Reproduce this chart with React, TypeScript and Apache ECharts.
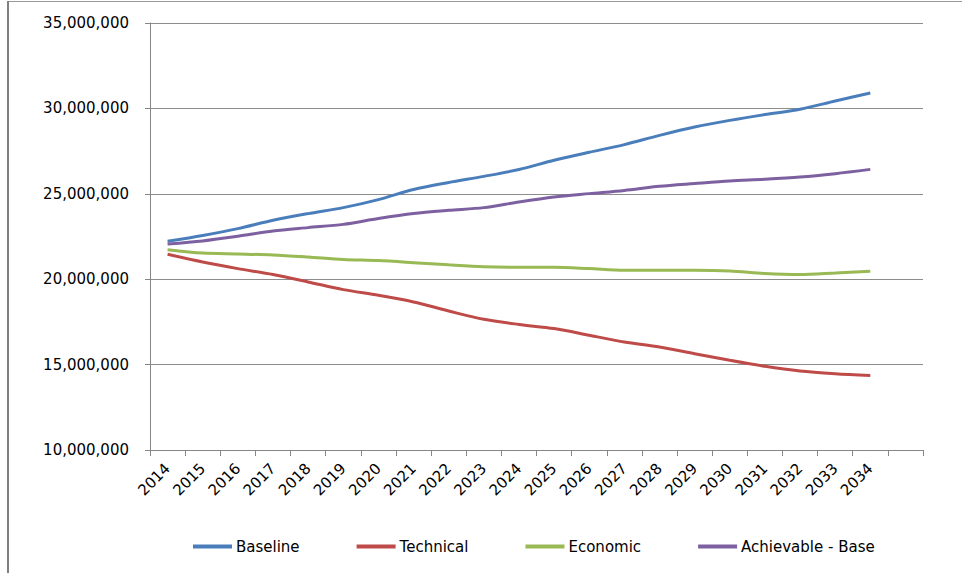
import React, { useEffect, useRef } from "react";
import * as echarts from "echarts";

// Forecast years; the trailing blank slot leaves an empty category at the right end of the axis
const years = [
  "2014", "2015", "2016", "2017", "2018", "2019", "2020", "2021", "2022", "2023", "2024",
  "2025", "2026", "2027", "2028", "2029", "2030", "2031", "2032", "2033", "2034", "",
];

const baseline = [
  22220000, 22560000, 22960000, 23450000, 23840000, 24190000, 24660000, 25250000, 25660000,
  26020000, 26420000, 26960000, 27430000, 27880000, 28420000, 28910000, 29300000, 29640000,
  29950000, 30430000, 30900000,
];

const technical = [
  21460000, 21010000, 20620000, 20270000, 19840000, 19390000, 19060000, 18670000, 18140000,
  17650000, 17350000, 17110000, 16720000, 16320000, 16030000, 15640000, 15250000, 14900000,
  14630000, 14470000, 14360000,
];

const economic = [
  21730000, 21530000, 21480000, 21420000, 21300000, 21160000, 21090000, 20970000, 20840000,
  20730000, 20700000, 20700000, 20620000, 20520000, 20520000, 20520000, 20480000, 20330000,
  20270000, 20360000, 20460000,
];

const achievableBase = [
  22060000, 22240000, 22510000, 22820000, 23020000, 23210000, 23550000, 23840000, 24030000,
  24190000, 24520000, 24810000, 25010000, 25200000, 25440000, 25600000, 25750000, 25850000,
  25980000, 26180000, 26430000,
];

const yTicks = { min: 10000000, max: 35000000, interval: 5000000 };

const FONT = "'DejaVu Sans', Verdana, sans-serif";

const withCommas = (v: number) => String(v).replace(/\B(?=(\d{3})+(?!\d))/g, ",");

export default function App() {
  const ref = useRef<HTMLDivElement>(null);

  useEffect(() => {
    if (!ref.current) return;
    const chart = echarts.init(ref.current, undefined, { renderer: "svg" });

    const line = (name: string, data: number[], color: string) => ({
      name,
      type: "line" as const,
      data,
      smooth: 0.3,
      showSymbol: false,
      symbol: "none",
      lineStyle: { color, width: 3 },
      itemStyle: { color },
    });

    chart.setOption({
      animation: false,
      backgroundColor: "#ffffff",
      textStyle: { fontFamily: FONT },
      grid: { left: 150, top: 23, width: 773, height: 427, containLabel: false },
      xAxis: {
        type: "category",
        data: years,
        boundaryGap: true,
        axisLine: { lineStyle: { color: "#868686", width: 1 } },
        axisTick: { show: true, length: 6, interval: 0, lineStyle: { color: "#868686" } },
        axisLabel: {
          interval: 0,
          rotate: 45,
          margin: 16,
          color: "#000000",
          fontSize: 15,
          fontFamily: FONT,
        },
        splitLine: { show: false },
      },
      yAxis: {
        type: "value",
        min: yTicks.min,
        max: yTicks.max,
        interval: yTicks.interval,
        axisLine: { show: true, lineStyle: { color: "#868686", width: 1 } },
        axisTick: { show: true, length: 5, lineStyle: { color: "#868686" } },
        axisLabel: {
          margin: 21,
          color: "#000000",
          fontSize: 15,
          fontFamily: FONT,
          formatter: (v: number) => withCommas(v),
        },
        splitLine: { show: true, lineStyle: { color: "#8c8c8c", width: 1 } },
      },
      legend: {
        left: 188,
        top: 534,
        itemGap: 57,
        itemWidth: 39,
        itemHeight: 4,
        icon: "rect",
        textStyle: { fontSize: 15, color: "#000000", fontFamily: FONT, padding: [0, 0, 0, -1] },
        data: ["Baseline", "Technical", "Economic", "Achievable - Base"],
      },
      graphic: [
        {
          type: "line",
          shape: { x1: 8, y1: 1.5, x2: 962, y2: 1.5 },
          style: { stroke: "#9a9a9a", lineWidth: 1 },
          silent: true,
        },
        {
          type: "line",
          shape: { x1: 8, y1: 1, x2: 8, y2: 573 },
          style: { stroke: "#808080", lineWidth: 2 },
          silent: true,
        },
      ],
      series: [
        line("Baseline", baseline, "#4A7EBB"),
        line("Technical", technical, "#BE4B48"),
        line("Economic", economic, "#98B954"),
        line("Achievable - Base", achievableBase, "#7D60A0"),
      ],
    });

    return () => chart.dispose();
  }, []);

  return (
    <div
      ref={ref}
      style={{ position: "absolute", left: 0, top: 0, width: 962, height: 573 }}
    />
  );
}
